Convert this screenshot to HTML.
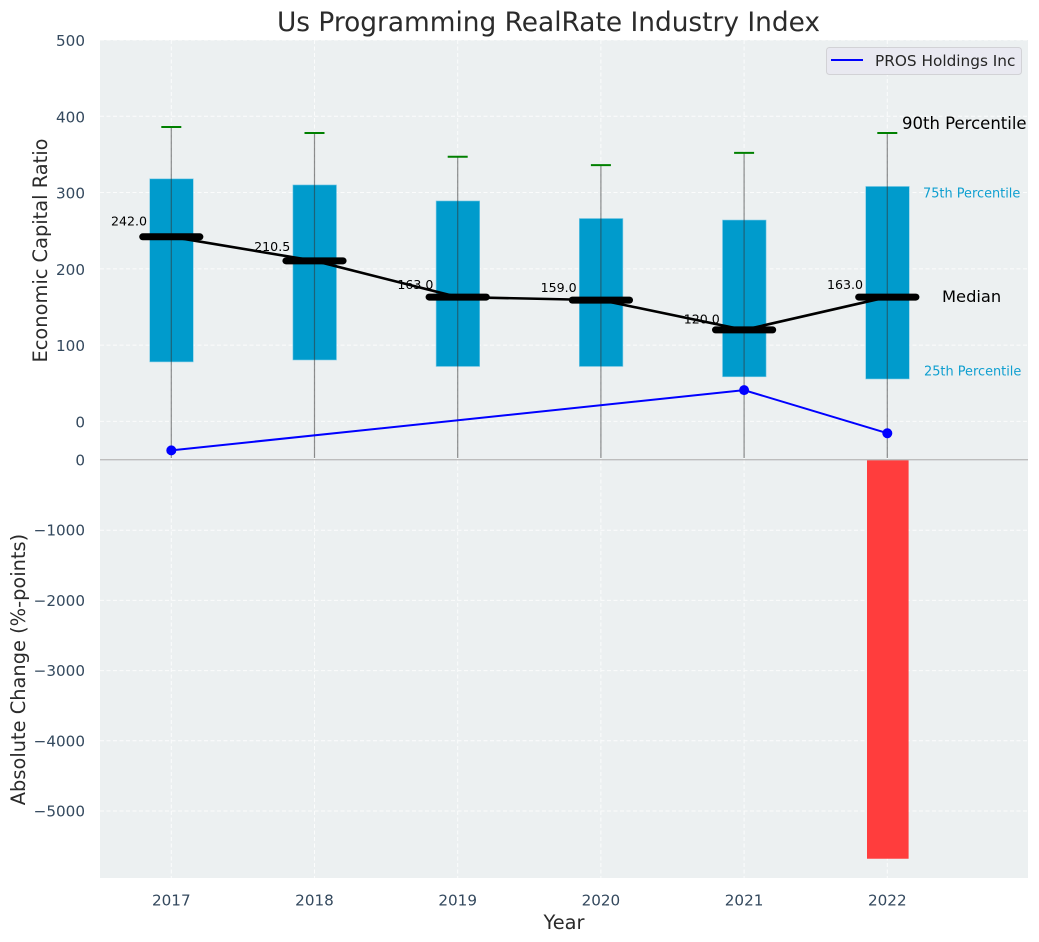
<!DOCTYPE html>
<html>
<head>
<meta charset="utf-8">
<title>Us Programming RealRate Industry Index</title>
<style>
html,body{margin:0;padding:0;background:#fff;}
svg{display:block;font-family:"DejaVu Sans","Liberation Sans",sans-serif;}
</style>
</head>
<body>
<svg id="chart" xmlns="http://www.w3.org/2000/svg" width="1039" height="942" viewBox="0 0 1039 942">
  <rect x="100" y="40" width="928" height="419.5" fill="#ecf0f1"/>
  <rect x="100" y="459.5" width="928" height="418.5" fill="#ecf0f1"/>
  <g id="grid" opacity="0.8"></g>
  <g id="marks"></g>
  <line x1="100" x2="1028" y1="459.7" y2="459.7" stroke="#bdbdbd" stroke-width="1.3"/>
  <g id="ticks"></g>
  <text x="548.5" y="31" text-anchor="middle" font-size="26.4" fill="#2b2b2b">Us Programming RealRate Industry Index</text>
  <text x="564" y="929" text-anchor="middle" font-size="19.4" fill="#2b2b2b">Year</text>
  <text transform="translate(47,250.5) rotate(-90)" text-anchor="middle" font-size="19.4" fill="#2b2b2b">Economic Capital Ratio</text>
  <text transform="translate(25,669.5) rotate(-90)" text-anchor="middle" font-size="19.4" fill="#2b2b2b">Absolute Change (%-points)</text>
  <text x="902" y="129" font-size="16.5" fill="#000">90th Percentile</text>
  <text x="923" y="197.5" font-size="12.9" fill="#0f9fd0">75th Percentile</text>
  <text x="942" y="302" font-size="16.3" fill="#000">Median</text>
  <text x="924" y="375.5" font-size="12.9" fill="#0f9fd0">25th Percentile</text>
  <g>
    <rect x="826.5" y="47.5" width="195" height="27" rx="3" fill="#e9e9f1" stroke="#d2d2d6" stroke-width="1"/>
    <line x1="831" x2="863" y1="60" y2="60" stroke="#0000ff" stroke-width="2"/>
    <text x="875" y="66" font-size="15.3" fill="#262626">PROS Holdings Inc</text>
  </g>
</svg>
<script>
const years = [2017, 2018, 2019, 2020, 2021, 2022];
const p90 = [386, 378, 347, 336, 352, 378];
const p75 = [318, 310, 289, 266, 264, 308];
const medians = [242, 210.5, 163, 159, 120, 163];
const medianLabels = ["242.0", "210.5", "163.0", "159.0", "120.0", "163.0"];
const p25 = [78, 80.5, 72, 72, 58.5, 55.6];
const p10 = [-48, -48, -48, -48, -48, -48];
const company = [-38, null, null, null, 41, -15.5];
const changes = [null, null, null, null, null, -5680];
const topTicks = [0, 100, 200, 300, 400, 500];
const bottomTicks = [0, -1000, -2000, -3000, -4000, -5000];
const bottomTickLabels = ["0", "\u22121000", "\u22122000", "\u22123000", "\u22124000", "\u22125000"];

const NS = "http://www.w3.org/2000/svg";
const xScale = v => 171.3 + (v - 2017) * 143.2;
const yTop = v => 421.4 - v * 0.7628;
const yBottom = v => 460 - v * 0.0702;
const grid = document.getElementById("grid");
const marks = document.getElementById("marks");
const ticks = document.getElementById("ticks");

function line(parent, x1, y1, x2, y2, stroke, width) {
  const el = document.createElementNS(NS, "line");
  el.setAttribute("x1", x1);
  el.setAttribute("y1", y1);
  el.setAttribute("x2", x2);
  el.setAttribute("y2", y2);
  el.setAttribute("stroke", stroke);
  el.setAttribute("stroke-width", width);
  parent.appendChild(el);
  return el;
}
function label(parent, x, y, content, size, fill, anchor) {
  const el = document.createElementNS(NS, "text");
  el.setAttribute("x", x);
  el.setAttribute("y", y);
  el.setAttribute("font-size", size);
  el.setAttribute("fill", fill);
  el.setAttribute("text-anchor", anchor);
  el.textContent = content;
  parent.appendChild(el);
  return el;
}

years.forEach(function (yr) {
  const a = line(grid, xScale(yr), 40, xScale(yr), 459, "#ffffff", 1);
  a.setAttribute("stroke-dasharray", "4 2.5");
  
  
  const b = line(grid, xScale(yr), 460, xScale(yr), 878, "#ffffff", 1);
  b.setAttribute("stroke-dasharray", "4 2.5");
  
  
  const t = label(ticks, xScale(yr), 905.5, String(yr), 15.2, "#34495e", "middle");
  
  
});
topTicks.forEach(function (v) {
  const g = line(grid, 100, yTop(v), 1028, yTop(v), "#ffffff", 1);
  g.setAttribute("stroke-dasharray", "4 2.5");
  
  
  const t = label(ticks, 85, yTop(v) + 6, String(v), 15.2, "#34495e", "end");
  
  
});
bottomTicks.forEach(function (v, i) {
  if (v !== 0) {
    const g = line(grid, 100, yBottom(v), 1028, yBottom(v), "#ffffff", 1);
    g.setAttribute("stroke-dasharray", "4 2.5");
    
    
  }
  const t = label(ticks, 85, yBottom(v) + 5.5, bottomTickLabels[i], 15.2, "#34495e", "end");
  
  
});

/* change bars */
changes.forEach(function (v, i) {
  if (v === null) return;
  const r = document.createElementNS(NS, "rect");
  r.setAttribute("x", xScale(years[i]) - 20.3);
  r.setAttribute("y", yBottom(0));
  r.setAttribute("width", 41.6);
  r.setAttribute("height", yBottom(v) - yBottom(0));
  r.setAttribute("fill", "#ff3d3d");
  
  
  marks.appendChild(r);
});

/* boxes */
years.forEach(function (yr, i) {
  const r = document.createElementNS(NS, "rect");
  r.setAttribute("x", xScale(yr) - 21.6);
  r.setAttribute("y", yTop(p75[i]));
  r.setAttribute("width", 43.6);
  r.setAttribute("height", yTop(p25[i]) - yTop(p75[i]));
  r.setAttribute("fill", "#009bcc");
  r.setAttribute("stroke", "#7fcbe6");
  r.setAttribute("stroke-width", 0.6);
  
  
  marks.appendChild(r);
});

/* median line */
const medianPath = document.createElementNS(NS, "polyline");
medianPath.setAttribute("points", years.map((yr, i) => xScale(yr) + "," + yTop(medians[i])).join(" "));
medianPath.setAttribute("fill", "none");
medianPath.setAttribute("stroke", "#000");
medianPath.setAttribute("stroke-width", 2.6);


marks.appendChild(medianPath);

/* whiskers, caps, median bars, labels */
years.forEach(function (yr, i) {
  const x = xScale(yr);
  const w = line(marks, x, yTop(p90[i]), x, yTop(p10[i]), "#333", 1.2);
  w.setAttribute("stroke-opacity", "0.55");
  
  
  const c = line(marks, x - 10, yTop(p90[i]), x + 10, yTop(p90[i]), "#008000", 2);
  
  
  const m = line(marks, x - 28.6, yTop(medians[i]), x + 28.6, yTop(medians[i]), "#000", 7);
  m.setAttribute("stroke-linecap", "round");
  
  
  const t = label(marks, x - 42.3, yTop(medians[i] * 1.05) - 2, medianLabels[i], 12.6, "#000", "middle");
  
  
});

/* company series */
const companyPoints = years.map((yr, i) => [yr, company[i]]).filter(p => p[1] !== null);
const companyPath = document.createElementNS(NS, "polyline");
companyPath.setAttribute("points", companyPoints.map(p => xScale(p[0]) + "," + yTop(p[1])).join(" "));
companyPath.setAttribute("fill", "none");
companyPath.setAttribute("stroke", "#0000ff");
companyPath.setAttribute("stroke-width", 2);


marks.appendChild(companyPath);
companyPoints.forEach(function (p) {
  const d = document.createElementNS(NS, "circle");
  d.setAttribute("cx", xScale(p[0]));
  d.setAttribute("cy", yTop(p[1]));
  d.setAttribute("r", 5);
  d.setAttribute("fill", "#0000ff");
  
  
  marks.appendChild(d);
});
</script>
</body>
</html>
